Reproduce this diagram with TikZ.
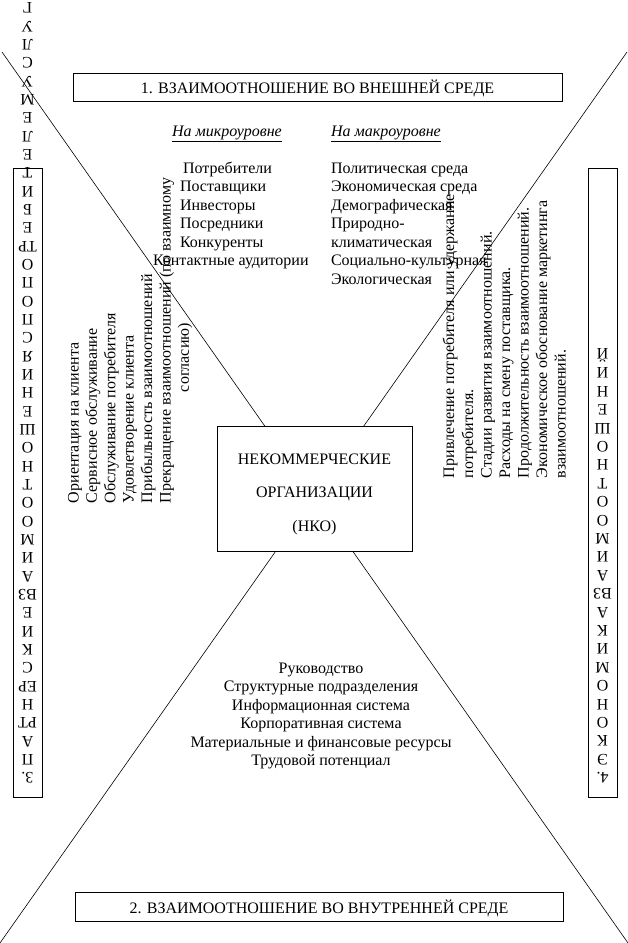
\documentclass[tikz,border=0pt]{standalone}
\usepackage{fontspec}
\setmainfont{Liberation Serif}
\tikzset{
  txt/.style={font=\fontsize{12}{13.8}\selectfont, inner sep=0pt, outer sep=0pt},
  frame/.style={draw, line width=0.6pt, inner sep=0pt},
  diag/.style={line width=0.45pt},
  stack/.style={txt, rotate=180, anchor=center},
  vlist/.style={txt, rotate=90, anchor=base west},
  hlist/.style={txt, anchor=base west},
  clist/.style={txt, anchor=base},
}
\begin{document}
\begin{tikzpicture}[x=0.75pt,y=-0.75pt]
\useasboundingbox (0,0) rectangle (628,943);
% diagonals
\coordinate (tl) at (2,52);
\coordinate (br) at (628,943);
\coordinate (tr) at (627,52);
\coordinate (bl) at (0,943);
\draw[diag] (tl) -- (br);
\draw[diag] (tr) -- (bl);
% top and bottom boxes
\node[frame, minimum width=366.75pt, minimum height=21pt] (box1) at (317.5,87) {};
\node[clist] (t1) at (317.5,93) {1. ВЗАИМООТНОШЕНИЕ ВО ВНЕШНЕЙ СРЕДЕ};
\node[frame, minimum width=366pt, minimum height=21.75pt] (box2) at (319,906.5) {};
\node[clist] (t2) at (319,913) {2. ВЗАИМООТНОШЕНИЕ ВО ВНУТРЕННЕЙ СРЕДЕ};
% center box
\node[frame, fill=white, minimum width=146.25pt, minimum height=93.75pt] (nko) at (314.5,488.5) {};
\node[clist] (n1) at (314.5,464) {НЕКОММЕРЧЕСКИЕ};
\node[clist] (n2) at (314.5,497) {ОРГАНИЗАЦИИ};
\node[clist] (n3) at (314.5,531) {(НКО)};
% side boxes
\node[frame, minimum width=21.75pt, minimum height=471.75pt] (box3) at (27.5,482.5) {};
\node[frame, minimum width=21.75pt, minimum height=471.75pt] (box4) at (602.5,482.5) {};
\foreach \s [count=\i from 0] in {3.,П,А,РТ,Н,ЕР,С,К,И,Е,ВЗ,А,И,М,О,О,Т,Н,О,Ш,Е,Н,И,Я,С,П,О,П,О,ТР,Е,Б,И,Т,Е,Л,Е,М,У,С,Л,У,Г}
  \node[stack] (L\i) at (27.5,{778-\i*18.33}) {\s};
\foreach \s [count=\i from 0] in {4.,Э,К,О,Н,О,М,И,К,А,ВЗ,А,И,М,О,О,Т,Н,О,Ш,Е,Н,И,Й}
  \node[stack] (R\i) at (602.5,{778-\i*18.4}) {\s};
% headings
\node[hlist] (hmic) at (172,136) {\underline{\textit{На микроуровне}}};
\node[hlist] (hmac) at (331,136) {\underline{\textit{На макроуровне}}};
% micro list
\node[hlist] (m1) at (183,173) {Потребители};
\node[hlist] (m2) at (180,191.5) {Поставщики};
\node[hlist] (m3) at (180,210) {Инвесторы};
\node[hlist] (m4) at (180,228.5) {Посредники};
\node[hlist] (m5) at (180,247) {Конкуренты};
\node[hlist] (m6) at (153,265.5) {Контактные аудитории};
% macro list
\node[hlist] (k1) at (331,173) {Политическая среда};
\node[hlist] (k2) at (331,191.5) {Экономическая среда};
\node[hlist] (k3) at (331,210) {Демографическая};
\node[hlist] (k4) at (331,228.5) {Природно-};
\node[hlist] (k5) at (331,247) {климатическая};
\node[hlist] (k6) at (331,265.5) {Социально-культурная};
\node[hlist] (k7) at (331,284) {Экологическая};
% left rotated list
\node[vlist] (p1) at (78.5,503) {Ориентация на клиента};
\node[vlist] (p2) at (96.9,503) {Сервисное обслуживание};
\node[vlist] (p3) at (115.3,503) {Обслуживание потребителя};
\node[vlist] (p4) at (133.7,503) {Удовлетворение клиента};
\node[vlist] (p5) at (152.1,503) {Прибыльность взаимоотношений};
\node[vlist] (p6) at (170.5,503) {Прекращение взаимоотношений (по взаимному};
\node[vlist] (p7) at (188.9,392) {согласию)};
% right rotated list
\node[vlist] (e1) at (454,478) {Привлечение потребителя или удержание};
\node[vlist] (e2) at (473,478) {потребителя.};
\node[vlist] (e3) at (491.5,478) {Стадии развития взаимоотношений.};
\node[vlist] (e4) at (510,478) {Расходы на смену поставщика.};
\node[vlist] (e5) at (528.5,478) {Продолжительность взаимоотношений.};
\node[vlist] (e6) at (547,478) {Экономическое обоснование маркетинга};
\node[vlist] (e7) at (565.5,478) {взаимоотношений.};
% bottom list
\node[clist] (b1) at (321,673) {Руководство};
\node[clist] (b2) at (321,691.5) {Структурные подразделения};
\node[clist] (b3) at (321,710) {Информационная система};
\node[clist] (b4) at (321,728.5) {Корпоративная система};
\node[clist] (b5) at (321,747) {Материальные и финансовые ресурсы};
\node[clist] (b6) at (321,765.5) {Трудовой потенциал};
\end{tikzpicture}
\end{document}
